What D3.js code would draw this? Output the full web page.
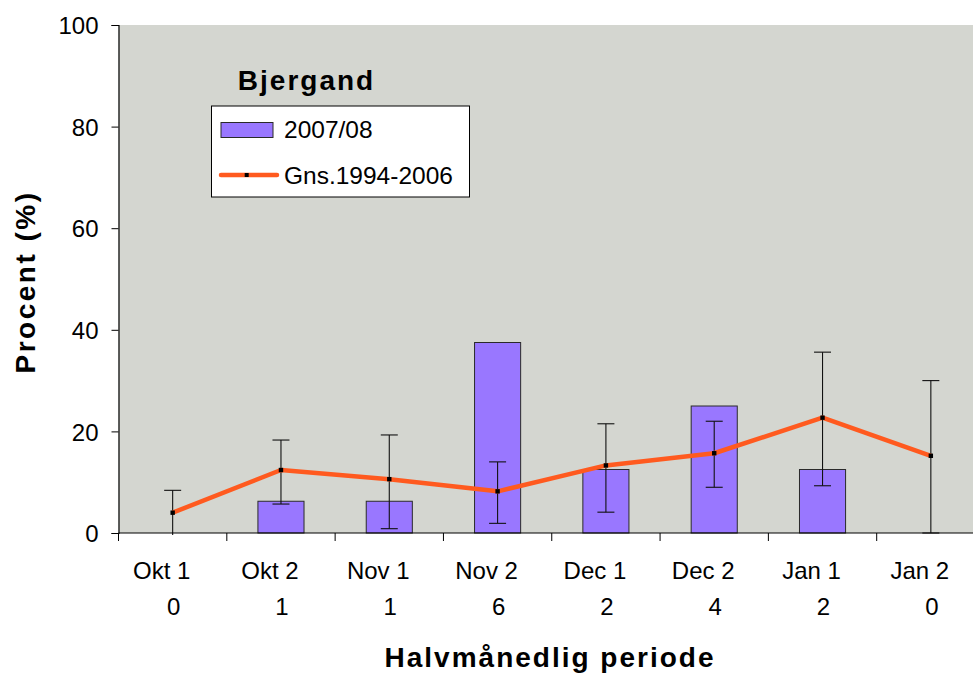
<!DOCTYPE html>
<html>
<head>
<meta charset="utf-8">
<script src="https://cdn.jsdelivr.net/npm/d3@7"></script>
<style>
  html, body { margin: 0; padding: 0; background: #ffffff; }
  svg { display: block; }
  text { font-family: "Liberation Sans", Arial, sans-serif; fill: #000; }
</style>
</head>
<body>
<svg id="chart" width="973" height="675"></svg>
<script>
const categories = ["Okt 1", "Okt 2", "Nov 1", "Nov 2", "Dec 1", "Dec 2", "Jan 1", "Jan 2"];
const counts = [0, 1, 1, 6, 2, 4, 2, 0];
const bars2007 = [0, 6.25, 6.25, 37.5, 12.5, 25, 12.5, 0];
const avg9406 = [4.0, 12.4, 10.6, 8.2, 13.3, 15.7, 22.7, 15.2];
const errHigh = [8.4, 18.3, 19.3, 14.0, 21.5, 22.0, 35.6, 30.0];
const errLow = [-0.5, 5.7, 0.85, 1.9, 4.1, 9.0, 9.3, 0];
const yTicks = [0, 20, 40, 60, 80, 100];
const legendTitle = "Bjergand";
const seriesNames = ["2007/08", "Gns.1994-2006"];
const yTitle = "Procent (%)";
const xTitle = "Halvmånedlig periode";

const svg = d3.select("#chart");
const plot = { left: 118.5, right: 985, top: 25, bottom: 533 };

const x = d3.scaleBand().domain(categories).range([plot.left, plot.right]).paddingInner(0).paddingOuter(0);
const y = d3.scaleLinear().domain([0, 100]).range([plot.bottom, plot.top]);

const barColor = "#9977FF";
const lineColor = "#FF5A1F";
const bgColor = "#D4D6D0";

// plot background
svg.append("rect")
  .attr("x", plot.left).attr("y", plot.top)
  .attr("width", plot.right - plot.left).attr("height", plot.bottom - plot.top)
  .attr("fill", bgColor);

// bars
const bw = x.bandwidth() / 2.35;
const data = categories.map((c, i) => ({ c, i, bar: bars2007[i], avg: avg9406[i], hi: errHigh[i], lo: errLow[i], n: counts[i] }));

svg.append("g").selectAll("rect")
  .data(data.filter(d => d.bar > 0))
  .join("rect")
  .attr("x", d => x(d.c) + x.bandwidth() / 2 - bw / 2)
  .attr("y", d => y(d.bar))
  .attr("width", bw)
  .attr("height", d => y(0) - y(d.bar))
  .attr("fill", barColor)
  .attr("stroke", "#2a2a2a")
  .attr("stroke-width", 1);

// error bars
const cx = d => x(d.c) + x.bandwidth() / 2;
const capW = 17;
const eg = svg.append("g").attr("stroke", "#111").attr("stroke-width", 1.1).attr("fill", "none");
eg.selectAll("line.v").data(data).join("line").attr("class", "v")
  .attr("x1", cx).attr("x2", cx)
  .attr("y1", d => y(d.hi)).attr("y2", d => d.lo < 0 ? y(0) + 2 : y(d.lo));
eg.selectAll("line.ct").data(data).join("line").attr("class", "ct")
  .attr("x1", d => cx(d) - capW / 2).attr("x2", d => cx(d) + capW / 2)
  .attr("y1", d => y(d.hi)).attr("y2", d => y(d.hi));
eg.selectAll("line.cb").data(data.filter(d => d.lo >= 0)).join("line").attr("class", "cb")
  .attr("x1", d => cx(d) - capW / 2).attr("x2", d => cx(d) + capW / 2)
  .attr("y1", d => y(d.lo)).attr("y2", d => y(d.lo));

// average line
const line = d3.line().x(cx).y(d => y(d.avg));
svg.append("path").datum(data)
  .attr("d", line)
  .attr("fill", "none")
  .attr("stroke", lineColor)
  .attr("stroke-width", 4.5)
  .attr("stroke-linejoin", "round");
svg.append("g").selectAll("rect")
  .data(data).join("rect")
  .attr("x", d => cx(d) - 2.2).attr("y", d => y(d.avg) - 2.2)
  .attr("width", 4.4).attr("height", 4.4)
  .attr("fill", "#000");

// y axis
const yAxis = d3.axisLeft(y).tickValues(yTicks).tickSize(7).tickPadding(13).tickFormat(d3.format("d"));
const yg = svg.append("g").attr("transform", `translate(${plot.left},0)`).call(yAxis);
yg.select(".domain").attr("stroke", "#000").attr("stroke-width", 1.2);
yg.selectAll(".tick line").attr("stroke", "#000");
yg.selectAll(".tick text").attr("font-size", 24).attr("font-family", "Liberation Sans, Arial, sans-serif").attr("fill", "#000").attr("dy", "0.36em");

// x axis line and ticks at band boundaries
const xg = svg.append("g");
xg.append("line")
  .attr("x1", plot.left).attr("x2", plot.right)
  .attr("y1", y(0)).attr("y2", y(0))
  .attr("stroke", "#000").attr("stroke-width", 1.2);
xg.selectAll("line.tk")
  .data(categories).join("line").attr("class", "tk")
  .attr("x1", d => x(d)).attr("x2", d => x(d))
  .attr("y1", y(0)).attr("y2", y(0) + 8)
  .attr("stroke", "#000").attr("stroke-width", 1);

// category labels (two lines)
xg.selectAll("text.cat")
  .data(data).join("text").attr("class", "cat")
  .attr("x", d => cx(d) - 11)
  .attr("y", 579)
  .attr("text-anchor", "middle")
  .attr("font-size", 24)
  .text(d => d.c);
xg.selectAll("text.cnt")
  .data(data).join("text").attr("class", "cnt")
  .attr("x", d => cx(d) + 1)
  .attr("y", 615)
  .attr("text-anchor", "middle")
  .attr("font-size", 24)
  .text(d => d.n);

// axis titles
svg.append("text")
  .attr("x", 550).attr("y", 667)
  .attr("text-anchor", "middle")
  .attr("font-size", 28).attr("font-weight", "bold")
  .attr("letter-spacing", 2)
  .text(xTitle);
svg.append("text")
  .attr("transform", `translate(34.5,${(plot.top + plot.bottom) / 2 + 3}) rotate(-90)`)
  .attr("text-anchor", "middle")
  .attr("font-size", 28).attr("font-weight", "bold")
  .attr("letter-spacing", 2.5)
  .text(yTitle);

// legend title
svg.append("text")
  .attr("x", 306.5).attr("y", 90)
  .attr("text-anchor", "middle")
  .attr("font-size", 28).attr("font-weight", "bold")
  .attr("letter-spacing", 2)
  .text(legendTitle);

// legend box
const lg = svg.append("g");
lg.append("rect")
  .attr("x", 211.5).attr("y", 106).attr("width", 258).attr("height", 91)
  .attr("fill", "#fff").attr("stroke", "#000").attr("stroke-width", 1);
lg.append("rect")
  .attr("x", 221).attr("y", 122.5).attr("width", 52).attr("height", 15)
  .attr("fill", barColor).attr("stroke", "#2a2a2a").attr("stroke-width", 1);
lg.append("text").attr("x", 284).attr("y", 138).attr("font-size", 24.5).text(seriesNames[0]);
lg.append("line")
  .attr("x1", 221).attr("x2", 277).attr("y1", 175).attr("y2", 175)
  .attr("stroke", lineColor).attr("stroke-width", 4.5).attr("stroke-linecap", "round");
lg.append("rect").attr("x", 246.7 - 2).attr("y", 173).attr("width", 4).attr("height", 4).attr("fill", "#000");
lg.append("text").attr("x", 284).attr("y", 183.5).attr("font-size", 24.5).text(seriesNames[1]);
</script>
</body>
</html>
